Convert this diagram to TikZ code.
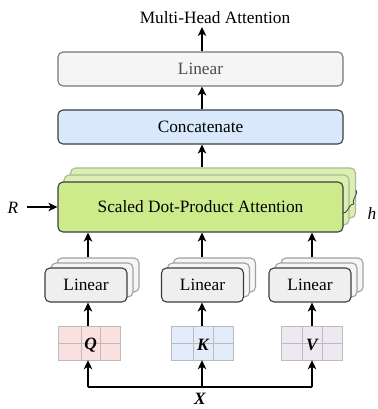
\documentclass[tikz,border=0pt]{standalone}
\usepackage{fontspec}
\setmainfont{Liberation Serif}
\usetikzlibrary{arrows.meta,decorations.pathreplacing}
\definecolor{topfill}{HTML}{F5F5F5}
\definecolor{topdraw}{HTML}{777777}
\definecolor{toptext}{HTML}{4D4D4D}
\definecolor{catfill}{HTML}{DAE8FC}
\definecolor{darkline}{HTML}{3A3D40}
\definecolor{sdpafill}{HTML}{CDEB8B}
\definecolor{sdpaback}{HTML}{DCEFB2}
\definecolor{sdpabackdraw}{HTML}{A8B892}
\definecolor{linfill}{HTML}{EFEFEF}
\definecolor{linback}{HTML}{F6F6F6}
\definecolor{linbackdraw}{HTML}{A0A0A0}
\definecolor{qfill}{HTML}{FBE0E0}
\definecolor{kfill}{HTML}{E3ECFA}
\definecolor{vfill}{HTML}{EEE8F0}
\definecolor{cellline}{HTML}{BBBBBB}
\tikzset{
  txt/.style={font=\fontsize{17.3}{20}\selectfont},
  wide/.style={txt, draw, line width=1.1pt, rounded corners=5pt, minimum width=285pt, inner sep=0pt},
  topbox/.style={wide, fill=topfill, draw=topdraw, text=toptext, minimum height=34pt},
  catbox/.style={wide, fill=catfill, draw=darkline, minimum height=34pt},
  sdpabox/.style={wide, fill=sdpafill, draw=darkline, minimum height=50pt},
  sdpabackbox/.style={wide, fill=sdpaback, draw=sdpabackdraw, minimum height=50pt},
  linbox/.style={txt, draw=darkline, fill=linfill, line width=1.1pt, rounded corners=5pt, minimum width=82pt, minimum height=34pt, inner sep=0pt},
  linbackbox/.style={linbox, draw=linbackdraw, fill=linback},
  arr/.style={-{Stealth[length=9pt,width=8.5pt,inset=2.5pt]}, line width=1.2pt, black},
  plain/.style={line width=1.2pt, black},
  mat/.style={font=\fontsize{17.3}{20}\selectfont\bfseries\itshape}
}
\begin{document}
\begin{tikzpicture}[x=1pt,y=-1pt]
\useasboundingbox (0,0) rectangle (377,409);
% title
\node[txt] (title) at (215,18) {Multi-Head Attention};
\coordinate (titlein) at (202,27);
% top linear
\node[topbox] (toplin) at (200.5,69) {Linear};
% concat
\node[catbox] (concat) at (200.5,127) {Concatenate};
% SDPA stack
\node[sdpabackbox] (sdpa3) at (213,193) {};
\node[sdpabackbox] (sdpa2) at (206.5,200) {};
\node[sdpabox] (sdpa) at (200.5,207) {Scaled Dot-Product Attention};
\node[txt, font=\fontsize{17.3}{20}\selectfont\itshape] (R) at (13,208) {R};
\node[txt, font=\fontsize{17.3}{20}\selectfont\itshape] (h) at (372,213) {h};
\draw[line width=0.8pt, darkline, decorate, decoration={brace, amplitude=5pt}] (356,190) -- (343,213);
% Linear stacks
\foreach \nn/\cx in {a/86, b/202.5, c/310}{
  \node[linbackbox] (\nn3) at (\cx+12,275) {};
  \node[linbackbox] (\nn2) at (\cx+6,280) {};
  \node[linbox] (\nn) at (\cx,285) {Linear};
}
% matrices
\foreach \nn/\xl/\xc/\xd/\xr/\lab/\ff in {q/58/81/100/120/Q/qfill, k/171/193/213/233/K/kfill, v/281/302/322/342/V/vfill}{
  \fill[\ff] (\xl,326) rectangle (\xr,360);
  \draw[cellline, line width=0.9pt] (\xl,326) rectangle (\xr,360);
  \draw[cellline, line width=0.9pt] (\xc,326) -- (\xc,360) (\xd,326) -- (\xd,360) (\xl,343) -- (\xr,343);
  \node[inner sep=0pt, minimum width=62pt, minimum height=34pt] (\nn) at ({(\xl+\xr)/2},343) {};
  \node[mat] (\nn lab) at ({(\xc+\xd)/2},345) {\lab};
}
% arrows
\draw[arr] (toplin.north -| titlein) -- (titlein);
\draw[arr] (concat.north -| titlein) -- (toplin.south -| titlein);
\draw[arr] (sdpa3.north -| titlein) -- (concat.south -| titlein);
\coordinate (Rs) at (27,207);
\draw[arr] (Rs) -- (sdpa.west |- Rs);
\foreach \nn/\mm/\xx in {a/q/88, b/k/202, c/v/312}{
  \coordinate (\nn x) at (\xx,0);
  \draw[arr] (\nn3.north -| \nn x) -- (sdpa.south -| \nn x);
  \draw[arr] (\mm.north -| \nn x) -- (\nn.south -| \nn x);
}
% bottom input
\node[mat] (xin) at (200,399) {X};
\coordinate (split) at (202,387);
\coordinate (splitL) at (88,387);
\coordinate (splitR) at (312,387);
\draw[plain] (splitL) -- (splitR);
\draw[arr] (splitL) -- (q.south -| splitL);
\draw[arr] (split) -- (k.south -| split);
\draw[arr] (splitR) -- (v.south -| splitR);
\end{tikzpicture}
\end{document}
